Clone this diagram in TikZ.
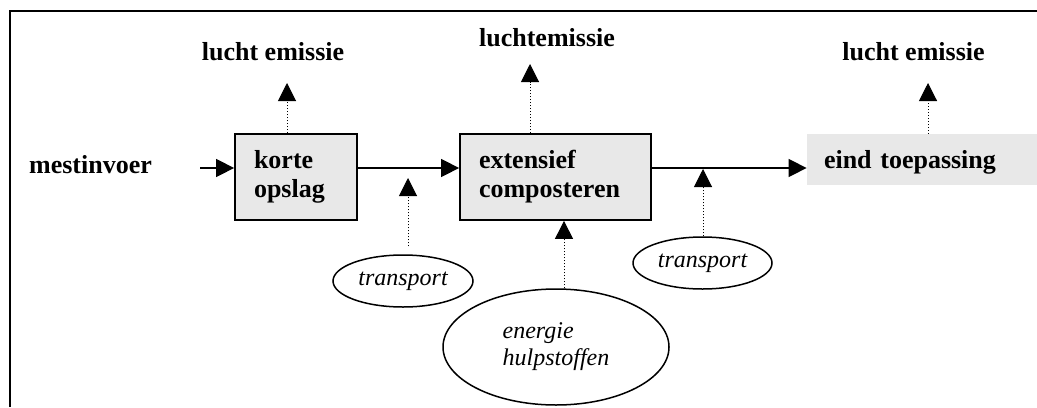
\documentclass[tikz,border=0pt]{standalone}
\usepackage{fontspec}
\setmainfont{Liberation Serif}
\usetikzlibrary{positioning, shapes.geometric, arrows.meta}
\definecolor{procesgrijs}{RGB}{232,232,232}
\begin{document}
\begin{tikzpicture}[
					x=0.5pt, y=-0.5pt,
					kop/.style={font=\fontsize{13}{14.5}\selectfont\bfseries},
					proces/.style={kop, draw, line width=0.9pt, fill=procesgrijs, align=left, inner xsep=9.5pt, minimum height=43pt},
					bron/.style={ellipse, draw, line width=0.75pt, inner sep=0pt, align=left, font=\fontsize{12}{13.5}\selectfont\itshape},
					stroom/.style={line width=0.75pt, -{Triangle[length=9pt,width=9pt]}},
					stippel/.style={line width=0.5pt, dash pattern=on 0.5pt off 1pt, -{Triangle[length=9pt,width=9pt]}}
					]
					\useasboundingbox (0,0) rectangle (1037,407);
					\draw[line width=1pt] (10,407) -- (10,11) -- (1037,11);
					\node[kop] (mest) at (90.5,165) {mestinvoer};
					\node[proces, text width=42pt] (opslag) at (296,177) {korte\\opslag};
					\node[proces, text width=76.5pt] (compost) at (555.5,177) {extensief\\composteren};
					\node[kop, fill=procesgrijs, text width=98pt, inner xsep=8.5pt, minimum height=25.5pt, text depth=0pt] (eind) at (922,159.5) {eind toepassing};
					\node[kop] (lucht1) at (273,52) {lucht emissie};
					\node[kop] (lucht2) at (547,37.5) {luchtemissie};
					\node[kop] (lucht3) at (913.5,52) {lucht emissie};
					\node[bron, minimum width=70pt, minimum height=26pt] (transport1) at (403,281) {transport};
					\node[bron, minimum width=69.5pt, minimum height=26pt] (transport2) at (702.5,263) {transport};
					\node[bron, minimum width=113pt, minimum height=58pt] (hulp) at (556,347) {energie\\hulpstoffen};
					\coordinate (flow) at (0,168);
					\coordinate (in) at (200,168);
					\draw[stroom] (in) -- (opslag.west |- flow);
					\draw[stroom] (opslag.east |- flow) -- (compost.west |- flow);
					\draw[stroom] (compost.east |- flow) -- (eind.west |- flow);
					\coordinate (e1) at (287,83);
					\coordinate (e2) at (530,64);
					\coordinate (e3) at (928,83);
					\draw[stippel] (opslag.north -| e1) -- (e1);
					\draw[stippel] (compost.north -| e2) -- (e2);
					\draw[stippel] (eind.north -| e3) -- (e3);
					\coordinate (t1) at (408,178);
					\coordinate (t2) at (703,169);
					\coordinate (h) at (564,0);
					\draw[stippel, shorten <=4pt] (transport1.north -| t1) -- (t1);
					\draw[stippel] (transport2.north -| t2) -- (t2);
					\draw[stippel] (hulp.north -| h) -- (compost.south -| h);
				\end{tikzpicture}
\end{document}
